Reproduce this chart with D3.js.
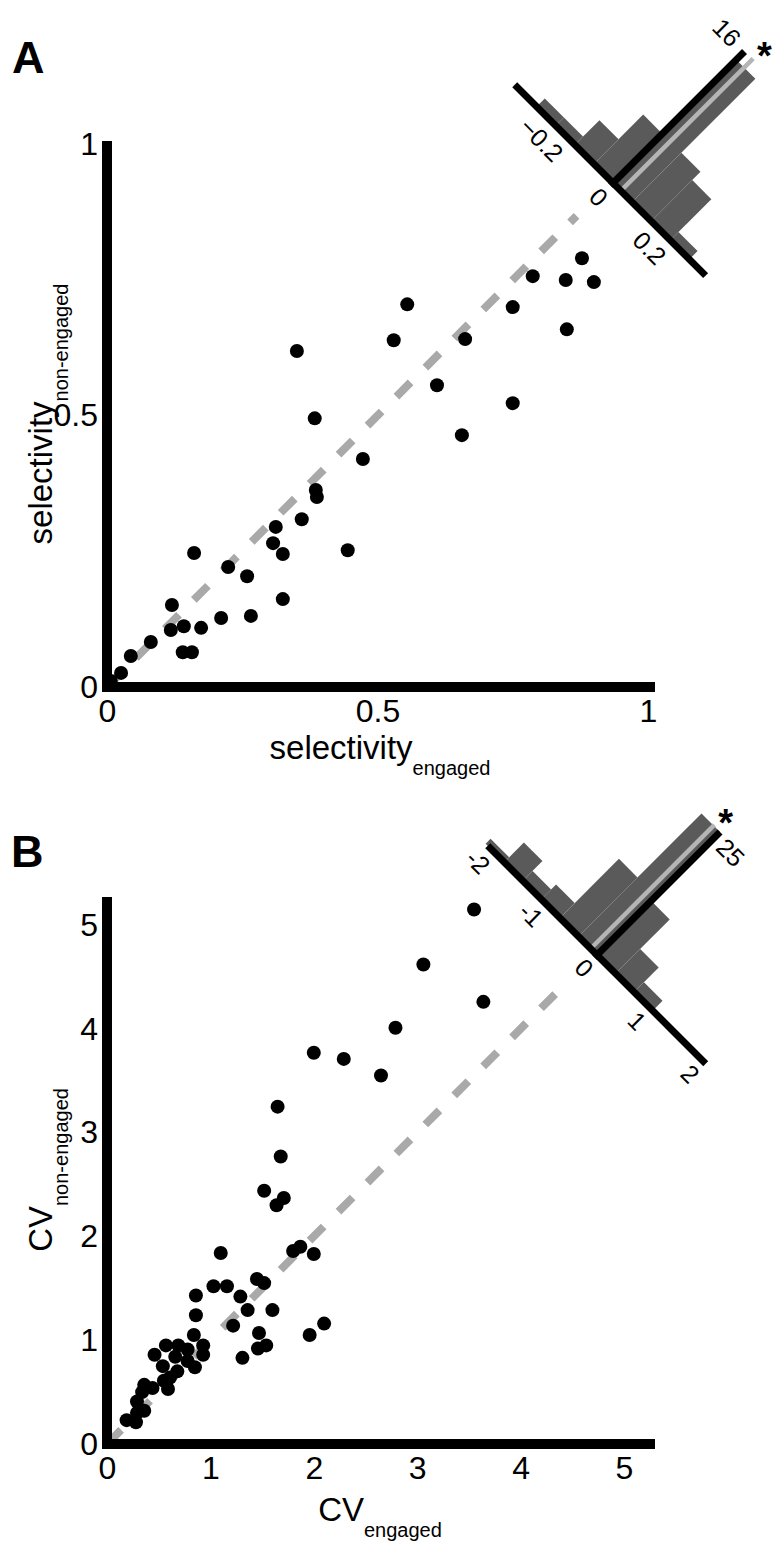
<!DOCTYPE html>
<html><head><meta charset="utf-8">
<script src="https://cdn.jsdelivr.net/npm/d3@7"></script>
<style>
body{margin:0;background:#fff}
svg{display:block}
text{font-family:"Liberation Sans",Arial,Helvetica,sans-serif;fill:#000}
</style>
</head><body>
<svg id="c" width="780" height="1545"></svg>
<script>
// ---------- Panel A data: selectivity ----------
const selEngaged    = [0.878,0.787,0.848,0.900,0.555,0.750,0.850,0.530,0.662,0.351,0.610,0.750,0.384,0.656,0.473,0.386,0.388,0.360,0.312,0.307,0.325,0.445,0.161,0.224,0.259,0.325,0.120,0.211,0.266,0.142,0.118,0.174,0.081,0.140,0.157,0.044,0.026,0.007];
const selNonEngaged = [0.790,0.757,0.750,0.746,0.705,0.700,0.659,0.639,0.641,0.619,0.556,0.523,0.495,0.464,0.420,0.363,0.350,0.309,0.295,0.265,0.245,0.252,0.247,0.221,0.204,0.162,0.151,0.127,0.131,0.112,0.105,0.109,0.083,0.064,0.064,0.057,0.026,0.011];
const selTicks = [0, 0.5, 1];
const selIdentity = [0, 0.868];
const selHistEdges  = [-0.3,-0.225,-0.15,-0.075,0,0.075,0.15,0.225,0.3];
const selHistCounts = [1,1,3,6,15,6,5,1];
const selHistTicks  = [-0.2, 0, 0.2];
const selHistTickLabels = ["\u22120.2", "0", "0.2"];
const selHistMax = 16;
const selHistMedian = 0.031;

// ---------- Panel B data: CV ----------
const cvEngaged    = [3.55,3.06,3.64,2.79,2.00,2.29,2.65,1.65,1.68,1.52,1.71,1.64,1.10,1.80,1.87,2.00,1.45,1.52,1.03,1.16,0.86,1.29,0.86,1.36,1.60,0.84,1.22,1.47,2.10,1.96,1.46,1.54,1.31,0.93,0.93,0.85,0.78,0.69,0.57,0.46,0.66,0.78,0.54,0.68,0.61,0.55,0.59,0.36,0.44,0.34,0.29,0.36,0.29,0.19,0.28];
const cvNonEngaged = [5.15,4.62,4.26,4.01,3.77,3.71,3.55,3.25,2.77,2.44,2.37,2.30,1.84,1.86,1.90,1.83,1.59,1.55,1.52,1.52,1.43,1.42,1.24,1.29,1.29,1.05,1.14,1.07,1.16,1.05,0.92,0.95,0.83,0.95,0.86,0.74,0.91,0.95,0.95,0.86,0.84,0.80,0.75,0.70,0.64,0.61,0.53,0.57,0.54,0.50,0.41,0.32,0.30,0.23,0.21];
const cvTicks = [0,1,2,3,4,5];
const cvIdentity = [0, 4.4];
const cvHistEdges  = [-2.1,-1.75,-1.4,-1.05,-0.7,-0.35,0,0.35,0.7,1.05];
const cvHistCounts = [1,4,2,3,12,25,11,5,2];
const cvHistTicks  = [-2,-1,0,1,2];
const cvHistTickLabels = ["-2","-1","0","1","2"];
const cvHistMax = 25;
const cvHistMedian = -0.12;

const FONT = '"Liberation Sans",Arial,Helvetica,sans-serif';
const svg = d3.select("#c");

function drawPanel(o){
  const g = svg.append("g");
  const xs = d3.scaleLinear().domain(o.xDomain).range(o.xRange);
  const ys = d3.scaleLinear().domain(o.yDomain).range(o.yRange);

  // panel letter
  g.append("text").attr("x", o.letterPos[0]).attr("y", o.letterPos[1])
    .attr("font-size", 45).attr("font-weight", "bold").text(o.letter);

  // identity dashed line
  g.append("line")
    .attr("x1", xs(o.identity[0])).attr("y1", ys(o.identity[0]))
    .attr("x2", xs(o.identity[1])).attr("y2", ys(o.identity[1]))
    .attr("stroke", "#a9a9a9").attr("stroke-width", 8)
    .attr("stroke-dasharray", "20,21");

  // points
  g.append("g").selectAll("circle").data(o.xv.map((d,i)=>[d,o.yv[i]]))
    .join("circle").attr("cx", d=>xs(d[0])).attr("cy", d=>ys(d[1]))
    .attr("r", 7).attr("fill", "#000");

  // axis lines
  const x0 = xs(0), y0 = ys(0);
  g.append("line").attr("x1", x0-5).attr("x2", xs(o.xDomain[1])).attr("y1", y0).attr("y2", y0)
    .attr("stroke", "#000").attr("stroke-width", 10);
  g.append("line").attr("x1", x0).attr("x2", x0).attr("y1", y0+5).attr("y2", ys(o.yDomain[1]))
    .attr("stroke", "#000").attr("stroke-width", 10);

  // tick labels via d3 axes
  const ax = g.append("g").attr("transform", `translate(0,${y0})`)
    .call(d3.axisBottom(xs).tickValues(o.ticks).tickFormat(d=>String(d)).tickSize(0).tickPadding(12));
  ax.select(".domain").remove();
  ax.attr("font-size", 32).attr("font-family", FONT);
  const ay = g.append("g").attr("transform", `translate(${x0},0)`)
    .call(d3.axisLeft(ys).tickValues(o.ticks).tickFormat(d=>String(d)).tickSize(0).tickPadding(9));
  ay.select(".domain").remove();
  ay.attr("font-size", 32).attr("font-family", FONT);

  // axis titles
  const xt = g.append("text").attr("x", o.xTitlePos[0]).attr("y", o.xTitlePos[1])
    .attr("text-anchor", "middle").attr("font-size", 33);
  xt.append("tspan").text(o.xTitle[0]);
  xt.append("tspan").attr("dy", 16).attr("font-size", 20).text(o.xTitle[1]);
  const yt = g.append("text")
    .attr("transform", `translate(${o.yTitlePos[0]},${o.yTitlePos[1]}) rotate(-90)`)
    .attr("text-anchor", "middle").attr("font-size", 33);
  yt.append("tspan").text(o.yTitle[0]);
  yt.append("tspan").attr("dy", 16).attr("font-size", 20).text(o.yTitle[1]);

  // ----- rotated histogram inset -----
  const h = o.hist;
  const ig = g.append("g").attr("transform", `translate(${h.origin[0]},${h.origin[1]}) rotate(45)`);
  const ts = d3.scaleLinear().domain(h.tDomain).range(h.tRange);
  const cs = d3.scaleLinear().domain([0, h.max]).range([0, -h.countLen]);
  const bins = h.counts.map((c,i)=>({e0:h.edges[i], e1:h.edges[i+1], c}));
  ig.selectAll("rect").data(bins).join("rect")
    .attr("x", d=>ts(d.e0)).attr("width", d=>ts(d.e1)-ts(d.e0))
    .attr("y", d=>cs(d.c)).attr("height", d=>-cs(d.c))
    .attr("fill", "#5a5a5a");
  // median line
  ig.append("line").attr("x1", ts(h.median)).attr("x2", ts(h.median))
    .attr("y1", -2).attr("y2", cs(h.max)-1)
    .attr("stroke", "#b5b5b5").attr("stroke-width", 4.5);
  // base axis
  ig.append("line").attr("x1", ts(h.tDomain[0])).attr("x2", ts(h.tDomain[1]))
    .attr("y1", 0).attr("y2", 0).attr("stroke", "#000").attr("stroke-width", 7);
  // count axis
  ig.append("line").attr("x1", 0).attr("x2", 0).attr("y1", 3.5).attr("y2", cs(h.max))
    .attr("stroke", "#000").attr("stroke-width", 7);
  // tick labels
  ig.selectAll("text.tk").data(h.ticks).join("text").attr("class","tk")
    .attr("x", (d)=>ts(d)).attr("y", h.labelOff)
    .attr("dx", d=> d<0 ? h.negShift : 0)
    .attr("dy", "0.36em").attr("text-anchor", "middle").attr("font-size", 25)
    .text((d,i)=>h.tickLabels[i]);
  ig.append("text").attr("x", h.maxLabelPos[0]).attr("y", cs(h.max)+h.maxLabelPos[1])
    .attr("dy", "0.36em").attr("text-anchor", "middle").attr("font-size", 25)
    .text(String(h.max));
  // asterisk (unrotated)
  const at = ts(h.median) + h.starOff[0], ah = -cs(h.max) + h.starOff[1];
  const c45 = Math.SQRT1_2;
  const sx = h.origin[0] + (at + ah)*c45, sy = h.origin[1] + (at - ah)*c45;
  g.append("text").attr("x", sx).attr("y", sy + 22).attr("text-anchor","middle")
    .attr("font-size", 38).attr("font-weight","bold").text("*");
}

drawPanel({
  letter:"A", letterPos:[12,73],
  xDomain:[0,1.013], xRange:[107,655],
  yDomain:[0,1.006], yRange:[687,141],
  xv:selEngaged, yv:selNonEngaged, ticks:selTicks, identity:selIdentity,
  xTitle:["selectivity","engaged"], xTitlePos:[380,759],
  yTitle:["selectivity","non-engaged"], yTitlePos:[52,414],
  hist:{origin:[613,183], tDomain:[-0.386,0.364], tRange:[-139,131],
        edges:selHistEdges, counts:selHistCounts, max:selHistMax, countLen:186,
        median:selHistMedian, ticks:selHistTicks, tickLabels:selHistTickLabels,
        labelOff:20, negShift:-9, maxLabelPos:[-26,-1], starOff:[0,17]}
});

drawPanel({
  letter:"B", letterPos:[11,867],
  xDomain:[0,5.3], xRange:[107,655],
  yDomain:[0,5.27], yRange:[1444,897],
  xv:cvEngaged, yv:cvNonEngaged, ticks:cvTicks, identity:cvIdentity,
  xTitle:["CV","engaged"], xTitlePos:[380,1521],
  yTitle:["CV","non-engaged"], yTitlePos:[52,1170],
  hist:{origin:[597,955], tDomain:[-2.06,2.05], tRange:[-154.5,153.75],
        edges:cvHistEdges, counts:cvHistCounts, max:cvHistMax, countLen:174,
        median:cvHistMedian, ticks:cvHistTicks, tickLabels:cvHistTickLabels,
        labelOff:18, negShift:0, maxLabelPos:[22,7], starOff:[0,17]}
});
</script>
</body></html>
